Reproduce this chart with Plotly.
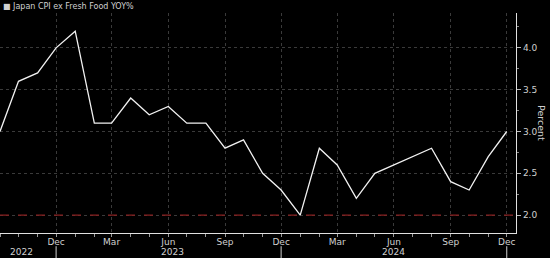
import plotly.graph_objects as go

months = ["2022-09-01", "2022-10-01", "2022-11-01", "2022-12-01",
          "2023-01-01", "2023-02-01", "2023-03-01", "2023-04-01", "2023-05-01", "2023-06-01",
          "2023-07-01", "2023-08-01", "2023-09-01", "2023-10-01", "2023-11-01", "2023-12-01",
          "2024-01-01", "2024-02-01", "2024-03-01", "2024-04-01", "2024-05-01", "2024-06-01",
          "2024-07-01", "2024-08-01", "2024-09-01", "2024-10-01", "2024-11-01", "2024-12-01"]
cpi = [3.0, 3.6, 3.7, 4.0,
       4.2, 3.1, 3.1, 3.4, 3.2, 3.3,
       3.1, 3.1, 2.8, 2.9, 2.5, 2.3,
       2.0, 2.8, 2.6, 2.2, 2.5, 2.6,
       2.7, 2.8, 2.4, 2.3, 2.7, 3.0]

tick_dates = ["2022-09-01", "2022-12-01", "2023-03-01", "2023-06-01", "2023-09-01",
              "2023-12-01", "2024-03-01", "2024-06-01", "2024-09-01", "2024-12-01"]
tick_text = ["", "Dec", "Mar", "Jun", "Sep", "Dec", "Mar", "Jun", "Sep", "Dec"]
year_labels = ["2022", "2023", "2024"]
year_pos = ["2022-10-06", "2023-06-07", "2024-06-01"]
year_sep = ["2022-12-01", "2023-12-01", "2024-12-01"]
target = 2.0

FONT = "DejaVu Sans"
TXT = "#d0d0d0"

fig = go.Figure()
fig.add_trace(go.Scatter(x=months, y=cpi, mode="lines",
                         line=dict(color="#f2f2f2", width=1.3),
                         name="Japan CPI ex Fresh Food YOY%", showlegend=False))

fig.add_shape(type="line", xref="paper", x0=0, x1=1, yref="y", y0=target, y1=target,
              line=dict(color="#8a2020", width=1.2, dash="dash"))

for d in year_sep:
    fig.add_shape(type="line", xref="x", x0=d, x1=d, yref="paper", y0=-0.06, y1=-0.12,
                  line=dict(color="#cfcfcf", width=1))

annotations = []
for lab, pos in zip(year_labels, year_pos):
    annotations.append(dict(x=pos, y=0, xref="x", yref="paper", text=lab, showarrow=False,
                            yanchor="middle", yshift=-19, font=dict(size=9, color=TXT, family=FONT)))
annotations.append(dict(x=1, y=0.5, xref="paper", yref="paper", text="Percent", showarrow=False,
                        textangle=90, xanchor="center", xshift=26,
                        font=dict(size=9.5, color=TXT, family=FONT)))
annotations.append(dict(x=0, y=1, xref="paper", yref="paper", text="■ Japan CPI ex Fresh Food YOY%",
                        showarrow=False, xanchor="left", yanchor="bottom", xshift=1, yshift=0,
                        font=dict(size=8, color=TXT, family=FONT)))

fig.update_layout(
    width=550, height=258,
    margin=dict(l=0, r=34, t=13, b=25),
    paper_bgcolor="black", plot_bgcolor="black",
    font=dict(family=FONT, size=9, color=TXT),
    annotations=annotations,
    xaxis=dict(range=["2022-09-01", "2024-12-16"], type="date",
               tickvals=tick_dates, ticktext=tick_text,
               showgrid=True, gridcolor="#3a3a3a", griddash="dot", gridwidth=1,
               showline=True, linecolor="#e0e0e0", linewidth=1.2,
               ticks="",
               minor=dict(tickvals=months, ticks="outside", ticklen=3, tickcolor="#999999", showgrid=False),
               tickfont=dict(size=9, color=TXT), zeroline=False),
    yaxis=dict(range=[1.786, 4.417], side="right",
               tickvals=[2.0, 2.5, 3.0, 3.5, 4.0], ticktext=["2.0", "2.5", "3.0", "3.5", "4.0"],
               showgrid=True, gridcolor="#3a3a3a", griddash="dot", gridwidth=1,
               showline=True, linecolor="#e0e0e0", linewidth=1.2,
               ticks="outside", ticklen=4, tickcolor="#bbbbbb",
               minor=dict(dtick=0.25, ticks="outside", ticklen=2, tickcolor="#888888", showgrid=False),
               tickfont=dict(size=9, color=TXT), zeroline=False),
)

fig.write_html("out.html")
